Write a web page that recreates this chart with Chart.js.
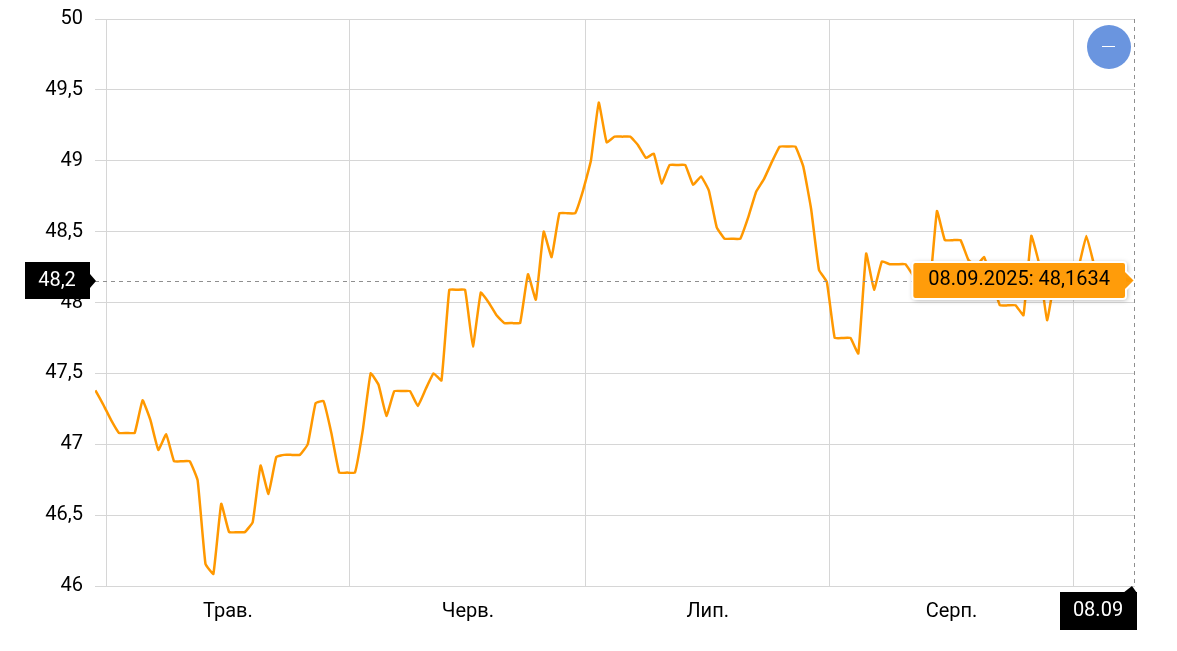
<!DOCTYPE html>
<html lang="uk">
<head>
<meta charset="utf-8">
<title>Курс</title>
<script src="https://cdn.jsdelivr.net/npm/chart.js@4"></script>
<style>
  html, body { margin: 0; padding: 0; background: #fff; }
  canvas { display: block; }
</style>
</head>
<body>
<canvas id="rateChart" width="1177" height="651"></canvas>
<script>
// daily values, first one is 29.04.2025, last one 08.09.2025
const rateValues = [
  47.38, 47.28, 47.17, 47.08, 47.08, 47.08, 47.31, 47.17, 46.96, 47.07,
  46.88, 46.88, 46.88, 46.745, 46.155, 46.085, 46.58, 46.38, 46.38, 46.38,
  46.45, 46.85, 46.65, 46.91, 46.925, 46.925, 46.925, 47.0, 47.29, 47.305,
  47.08, 46.8, 46.8, 46.8, 47.1, 47.5, 47.42, 47.2, 47.375, 47.375,
  47.375, 47.27, 47.39, 47.5, 47.45, 48.09, 48.09, 48.09, 47.69, 48.07,
  48.0, 47.91, 47.855, 47.855, 47.855, 48.2, 48.02, 48.5, 48.32, 48.63,
  48.63, 48.63, 48.79, 49.0, 49.41, 49.13, 49.17, 49.17, 49.17, 49.11,
  49.02, 49.05, 48.84, 48.97, 48.97, 48.97, 48.83, 48.89, 48.79, 48.53,
  48.45, 48.45, 48.45, 48.6, 48.78, 48.87, 48.99, 49.1, 49.1, 49.1,
  48.96, 48.66, 48.23, 48.145, 47.75, 47.75, 47.75, 47.64, 48.345, 48.09,
  48.29, 48.27, 48.27, 48.27, 48.19, 48.19, 48.07, 48.645, 48.44, 48.44,
  48.44, 48.3, 48.26, 48.32, 48.15, 47.98, 47.98, 47.98, 47.91, 48.47,
  48.27, 47.875, 48.16, 48.16, 48.16, 48.25, 48.47, 48.26, 48.1, 48.16,
  48.16, 48.16, 48.1634
];
const monthStarts = [0, 31, 61, 92, 123];            // days from 1 May
const monthLabels = { 15.5: 'Трав.', 46: 'Черв.', 76.5: 'Лип.', 107.5: 'Серп.' };
const yTicks = [46, 46.5, 47, 47.5, 48, 48.5, 49, 49.5, 50];
const lastDate = '08.09.2025';
const lastDateShort = '08.09';
const crossValue = 48.155;
const crossLabel = '48,2';

const FONT = 'Roboto, sans-serif';
const ORANGE = '#ff9800';
const GRID = '#d6d6d6';

const comma = v => String(v).replace('.', ',');

Chart.Tooltip.positioners.cross = function (items) {
  if (!items.length) return false;
  return { x: this.chart.chartArea.right, y: this.chart.scales.y.getPixelForValue(crossValue) };
};

// dashed lines + black badges + the zoom button
const crosshair = {
  id: 'crosshair',
  afterDatasetsDraw(chart) {
    const { ctx, chartArea: a } = chart;
    const y = chart.scales.y.getPixelForValue(crossValue);
    ctx.save();
    ctx.strokeStyle = '#8f8f8f';
    ctx.lineWidth = 1;
    ctx.setLineDash([4, 4]);
    ctx.beginPath();
    ctx.moveTo(a.left, Math.round(y) + 0.5);
    ctx.lineTo(a.right, Math.round(y) + 0.5);
    ctx.moveTo(a.right - 0.5, a.top);
    ctx.lineTo(a.right - 0.5, a.bottom);
    ctx.stroke();
    ctx.restore();
  },
  beforeTooltipDraw(chart, args) {
    const t = args.tooltip;
    const ctx = chart.ctx;
    ctx.save();
    ctx.shadowColor = 'rgba(0,0,0,0.35)';
    ctx.shadowBlur = 5;
    ctx.shadowOffsetX = 1;
    ctx.shadowOffsetY = 1;
    ctx.fillStyle = '#fff';
    ctx.beginPath();
    ctx.roundRect(t.x, t.y, t.width, t.height, 3);
    ctx.fill();
    ctx.restore();
  },
  afterDraw(chart) {
    const { ctx, chartArea: a } = chart;
    const y = Math.round(chart.scales.y.getPixelForValue(crossValue));
    ctx.save();
    ctx.fillStyle = '#000';
    // y badge
    ctx.fillRect(a.left - 70, y - 19, 65, 37);
    ctx.beginPath();
    ctx.moveTo(a.left - 5, y - 7);
    ctx.lineTo(a.left + 1, y);
    ctx.lineTo(a.left - 5, y + 7);
    ctx.fill();
    // x badge
    ctx.fillRect(a.right - 75, a.bottom + 6, 77, 38);
    ctx.beginPath();
    ctx.moveTo(a.right - 12, a.bottom + 7);
    ctx.lineTo(a.right - 3, a.bottom);
    ctx.lineTo(a.right + 2, a.bottom + 7);
    ctx.fill();
    ctx.fillStyle = '#fff';
    ctx.font = '20px ' + FONT;
    ctx.textAlign = 'center';
    ctx.textBaseline = 'middle';
    ctx.fillText(crossLabel, a.left - 38, y);
    ctx.fillText(lastDateShort, a.right - 37, a.bottom + 25);
    // zoom out button
    ctx.fillStyle = '#6a95df';
    ctx.beginPath();
    ctx.arc(a.right - 26, a.top + 28, 22, 0, Math.PI * 2);
    ctx.fill();
    ctx.strokeStyle = '#fff';
    ctx.lineWidth = 1;
    ctx.beginPath();
    ctx.moveTo(a.right - 33, a.top + 27.5);
    ctx.lineTo(a.right - 20, a.top + 27.5);
    ctx.stroke();
    ctx.restore();
  }
};

const ctx = document.getElementById('rateChart').getContext('2d');
const rateChart = new Chart(ctx, {
  type: 'line',
  data: {
    datasets: [{
      data: rateValues.map((v, i) => ({ x: i - 2 + 0.65, y: v })),
      borderColor: ORANGE,
      borderWidth: 2.5,
      tension: 0.1,
      pointRadius: 0,
      fill: false
    }]
  },
  plugins: [crosshair],
  options: {
    responsive: false,
    animation: false,
    events: [],
    layout: { padding: { top: 19, right: 42, left: 0, bottom: 0 } },
    scales: {
      x: {
        type: 'linear',
        min: -1.4,
        max: 130.83,
        afterFit: s => { s.height = 65; s.paddingLeft = 0; s.paddingRight = 0; },
        afterBuildTicks: s => {
          const labelPos = Object.keys(monthLabels).map(Number);
          s.ticks = monthStarts.concat(labelPos).sort((a, b) => a - b).map(value => ({ value }));
        },
        grid: {
          drawTicks: false,
          color: c => (c.tick && monthStarts.includes(c.tick.value)) ? GRID : 'rgba(0,0,0,0)'
        },
        border: { display: false },
        ticks: {
          autoSkip: false,
          maxRotation: 0,
          padding: 14,
          color: '#000',
          font: { family: FONT, size: 20 },
          callback: v => monthLabels[v] || ''
        }
      },
      y: {
        min: 46,
        max: 50,
        afterFit: s => { s.width = 95; s.paddingTop = 0; s.paddingBottom = 0; },
        afterBuildTicks: s => { s.ticks = yTicks.map(value => ({ value })); },
        grid: { drawTicks: false, color: GRID },
        border: { display: false },
        ticks: {
          padding: 12,
          color: '#000',
          font: { family: FONT, size: 20 },
          callback: v => comma(v)
        }
      }
    },
    plugins: {
      legend: { display: false },
      title: { display: false },
      tooltip: {
        enabled: true,
        position: 'cross',
        xAlign: 'right',
        yAlign: 'center',
        backgroundColor: 'rgba(255,152,0,0.96)',
        borderColor: '#fff',
        borderWidth: 2,
        cornerRadius: 3,
        caretSize: 9,
        caretPadding: 0,
        padding: { top: 6, bottom: 7, left: 16, right: 16 },
        displayColors: false,
        bodyColor: '#000',
        bodyFont: { family: FONT, size: 20 },
        callbacks: {
          title: () => '',
          label: c => lastDate + ': ' + c.parsed.y.toFixed(4).replace('.', ',')
        }
      }
    }
  }
});

rateChart.tooltip.setActiveElements([{ datasetIndex: 0, index: rateValues.length - 1 }], { x: 0, y: 0 });
rateChart.render();
</script>
</body>
</html>
